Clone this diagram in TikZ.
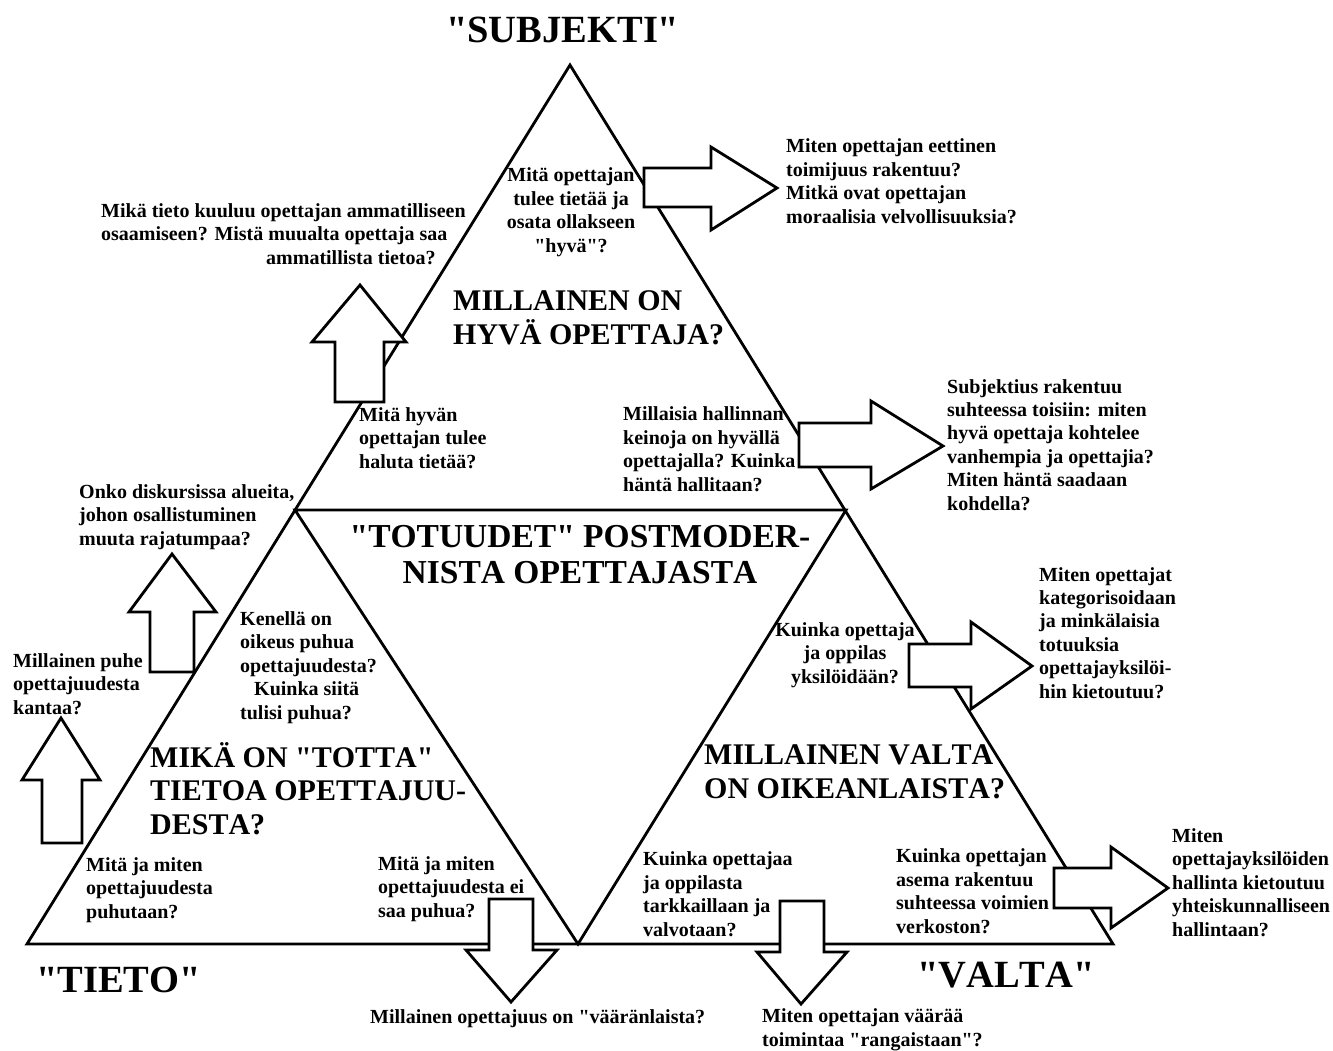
\documentclass[tikz,border=0pt]{standalone}
\usepackage{fontspec}
\setmainfont{Liberation Serif}[Ligatures=TeXOff, Kerning=Off]
\tikzset{
    question/.style={
        align=left,
        inner sep=0pt,
        anchor=base west,
        font=\fontsize{20}{23.4}\selectfont\bfseries
    },
    centred/.style={
        question,
        align=center,
        anchor=base
    },
    heading/.style={
        question,
        font=\fontsize{30}{33.5}\selectfont\bfseries
    },
    corner/.style={
        inner sep=0pt,
        anchor=base west,
        font=\fontsize{38.5}{40}\selectfont\bfseries
    },
    side/.style={
        draw,
        line width=2.8pt,
        line join=miter
    },
    blockarrow/.style={
        side,
        fill=white
    }
}
\begin{document}
\begin{tikzpicture}[x=1pt, y=-1pt]
    \useasboundingbox (0,0) rectangle (1333,1050);

    % Corners of the triangles
    \coordinate (Top) at (570,65);
    \coordinate (LeftMid) at (295,510);
    \coordinate (RightMid) at (846,510);
    \coordinate (BottomLeft) at (27,944);
    \coordinate (BottomMid) at (578,944);
    \coordinate (BottomRight) at (1113,944);

    \draw [side] (BottomLeft) -- (Top) -- (BottomRight) -- cycle;
    \draw [side] (LeftMid) -- (RightMid) -- (BottomMid) -- cycle;

    % Block arrows pointing out of the triangle
    \draw [blockarrow] (644,168) -- (711,168) -- (711,147) -- (777,188) -- (711,230) -- (711,207) -- (644,207) -- cycle;
    \draw [blockarrow] (799,423) -- (871,423) -- (871,401) -- (943,446) -- (871,489) -- (871,467) -- (799,467) -- cycle;
    \draw [blockarrow] (909,644) -- (971,644) -- (971,622) -- (1032,666) -- (971,709) -- (971,687) -- (909,687) -- cycle;
    \draw [blockarrow] (1054,868) -- (1111,868) -- (1111,847) -- (1168,888) -- (1111,928) -- (1111,908) -- (1054,908) -- cycle;
    \draw [blockarrow] (335,402) -- (335,342) -- (312,342) -- (360,285) -- (406,342) -- (384,342) -- (384,402) -- cycle;
    \draw [blockarrow] (150,672) -- (150,612) -- (129,612) -- (172,554) -- (216,612) -- (194,612) -- (194,672) -- cycle;
    \draw [blockarrow] (42,843) -- (42,780) -- (22,780) -- (61,718) -- (100,780) -- (82,780) -- (82,843) -- cycle;
    \draw [blockarrow] (489,899) -- (533,899) -- (533,950) -- (557,950) -- (511,1002) -- (466,950) -- (489,950) -- cycle;
    \draw [blockarrow] (780,901) -- (824,901) -- (824,952) -- (847,952) -- (801,1004) -- (757,952) -- (780,952) -- cycle;

    % Corner titles
    \node (Subjekti) [corner] at (446,42) {"SUBJEKTI"};
    \node (Tieto) [corner] at (36,992) {"TIETO"};
    \node (Valta) [corner] at (917,987) {"VALTA"};

    % Headings inside the triangles (anchored at the last line)
    \node (GoodTeacher) [heading] at (453,344) {MILLAINEN ON\\HYVÄ OPETTAJA?};
    \node (Truths) [heading, align=center, anchor=base, font=\fontsize{33.5}{36}\selectfont\bfseries] at (580,583) {"TOTUUDET" POSTMODER-\\NISTA OPETTAJASTA};
    \node (TrueKnowledge) [heading] at (150,834) {MIKÄ ON "TOTTA"\\TIETOA OPETTAJUU-\\DESTA?};
    \node (RightPower) [heading] at (704,798) {MILLAINEN VALTA\\ON OIKEANLAISTA?};

    % Questions of the subject corner
    \node (KnowBeGood) [centred] at (571,252) {Mitä opettajan\\tulee tietää ja\\osata ollakseen\\"hyvä"?};
    \node (Ethics) [question] at (786,223) {Miten opettajan eettinen\\toimijuus rakentuu?\\Mitkä ovat opettajan\\moraalisia velvollisuuksia?};
    \node (Profession) [question] at (101,264) {Mikä tieto kuuluu opettajan ammatilliseen\\osaamiseen? Mistä muualta opettaja saa\\\hspace*{165pt}ammatillista tietoa?};
    \node (WantKnow) [question] at (359,468) {Mitä hyvän\\opettajan tulee\\haluta tietää?};
    \node (Governing) [question] at (623,491) {Millaisia hallinnan\\keinoja on hyvällä\\opettajalla? Kuinka\\häntä hallitaan?};
    \node (Subjectivity) [question] at (947,510) {Subjektius rakentuu\\suhteessa toisiin: miten\\hyvä opettaja kohtelee\\vanhempia ja opettajia?\\Miten häntä saadaan\\kohdella?};

    % Questions of the knowledge corner
    \node (Areas) [question] at (79,545) {Onko diskursissa alueita,\\johon osallistuminen\\muuta rajatumpaa?};
    \node (RightToSpeak) [question] at (240,719) {Kenellä on\\oikeus puhua\\opettajuudesta?\\\hspace*{14pt}Kuinka siitä\\tulisi puhua?};
    \node (Speech) [question] at (13,714) {Millainen puhe\\opettajuudesta\\kantaa?};
    \node (Spoken) [question] at (86,918) {Mitä ja miten\\opettajuudesta\\puhutaan?};
    \node (Unspoken) [question] at (378,917) {Mitä ja miten\\opettajuudesta ei\\saa puhua?};
    \node (Wrong) [question] at (370,1023) {Millainen opettajuus on "vääränlaista?};

    % Questions of the power corner
    \node (Individual) [centred] at (845,683) {Kuinka opettaja\\ja oppilas\\yksilöidään?};
    \node (Categories) [question] at (1039,698) {Miten opettajat\\kategorisoidaan\\ja minkälaisia\\totuuksia\\opettajayksilöi-\\hin kietoutuu?};
    \node (Watching) [question] at (643,936) {Kuinka opettajaa\\ja oppilasta\\tarkkaillaan ja\\valvotaan?};
    \node (Position) [question] at (896,933) {Kuinka opettajan\\asema rakentuu\\suhteessa voimien\\verkoston?};
    \node (Society) [question] at (1172,936) {Miten\\opettajayksilöiden\\hallinta kietoutuu\\yhteiskunnalliseen\\hallintaan?};
    \node (Punish) [question] at (762,1046) {Miten opettajan väärää\\toimintaa "rangaistaan"?};

\end{tikzpicture}
\end{document}
